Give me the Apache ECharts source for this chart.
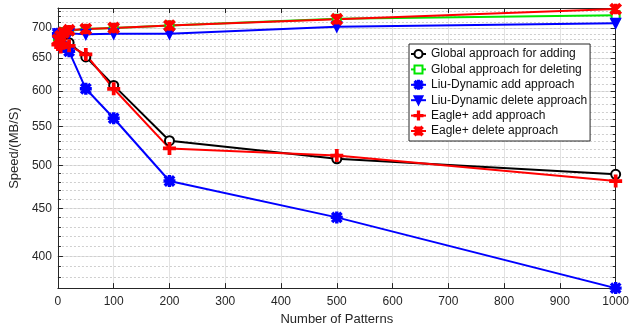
<!DOCTYPE html>
<html>
<head>
<meta charset="utf-8">
<script src="https://cdn.jsdelivr.net/npm/echarts@6/dist/echarts.min.js"></script>
<style>
  html, body { margin: 0; padding: 0; background: #fff; }
  #chart { width: 632px; height: 331px; }
</style>
</head>
<body>
<div id="chart"></div>
<script>
// number of patterns (x) and speed in MB/S for each approach
const patterns = [0, 5, 10, 20, 50, 100, 200, 500, 1000];
const globalAdd = [688, 684, 678, 675, 652, 608, 531, 508, 489];
const globalDel = [686, 690, 693, 695, 698, 700, 704, 716, 722];
const liuAdd = [690, 675, 668, 661, 603, 561, 481, 440, 370];
const liuDel = [690, 688, 690, 691, 689, 690, 690, 702, 708];
const eagleAdd = [672, 668, 674, 670, 656, 603, 521, 512, 481];
const eagleDel = [680, 686, 692, 696, 698, 700, 704, 715, 733];

const yMajor = [400, 450, 500, 550, 600, 650, 700];
const yMinor = [370, 380, 390, 400, 410, 420, 430, 440, 450, 460, 470, 480, 490, 500,
  510, 520, 530, 540, 550, 560, 570, 580, 590, 600, 610, 620, 630, 640, 650,
  660, 670, 680, 690, 700, 710, 720, 730];

const FONT = '"Liberation Sans", Arial, sans-serif';
const AX = '#262626';

const PLUS = 'path://M4.2,0h1.6v10h-1.6z M0,4.2h10v1.6h-10z';
const STAR = 'path://M4.3,0h1.4v10h-1.4z M0,4.3h10v1.4h-10z M0.5,1.5L1.5,0.5L9.5,8.5L8.5,9.5z M8.5,0.5L9.5,1.5L1.5,9.5L0.5,8.5z';
const CROSS = 'path://M0.3,1.6L1.6,0.3L9.7,8.4L8.4,9.7z M8.4,0.3L9.7,1.6L1.6,9.7L0.3,8.4z M4.3,1h1.4v8h-1.4z';

function pts(vals) {
  return patterns.map((x, i) => [x, vals[i]]);
}

function line(name, vals, color, symbol, size, extra) {
  return Object.assign({
    name, type: 'line', data: pts(vals),
    symbol, symbolSize: size,
    lineStyle: { color, width: 2 },
    itemStyle: { color, borderColor: color, borderWidth: 2 },
    emphasis: { disabled: true },
    animation: false
  }, extra || {});
}

const chart = echarts.init(document.getElementById('chart'), null, { renderer: 'canvas' });

const yBase = { type: 'log', logBase: 10, min: 370, max: 735 };

chart.setOption({
  backgroundColor: '#fff',
  textStyle: { fontFamily: FONT },
  grid: { left: 56, right: 10, top: 8, bottom: 40 },
  legend: {
    orient: 'vertical',
    left: 409, top: 44,
    backgroundColor: '#fff',
    borderColor: AX, borderWidth: 1,
    padding: [4, 3, 4, 1],
    itemWidth: 15, itemHeight: 10, itemGap: 3.4,
    textStyle: { fontFamily: FONT, fontSize: 12, color: '#111' },
    data: ['Global approach for adding', 'Global approach for deleting', 'Liu-Dynamic add approach',
      'Liu-Dynamic delete approach', 'Eagle+ add approach', 'Eagle+ delete approach']
  },
  xAxis: [
    {
      type: 'value', min: 0, max: 1000, interval: 100, position: 'bottom',
      name: 'Number of Patterns', nameLocation: 'middle', nameGap: 22,
      nameTextStyle: { fontFamily: FONT, fontSize: 13, color: AX },
      axisLine: { lineStyle: { color: AX } },
      axisTick: { inside: true, length: 5, lineStyle: { color: AX } },
      axisLabel: { color: AX, fontSize: 12, margin: 8, fontFamily: FONT, formatter: v => String(v) },
      splitLine: { show: true, lineStyle: { color: '#e2e2e2' } }
    },
    {
      type: 'value', min: 0, max: 1000, interval: 100, position: 'top',
      axisLine: { show: true, lineStyle: { color: AX } },
      axisTick: { show: true, inside: true, length: 5, lineStyle: { color: AX } },
      axisLabel: { show: false },
      splitLine: { show: false }
    }
  ],
  yAxis: [
    Object.assign({}, yBase, {
      position: 'left',
      name: 'Speed/(MB/S)', nameLocation: 'middle', nameGap: 34,
      nameTextStyle: { fontFamily: FONT, fontSize: 13, color: AX },
      axisLine: { show: true, lineStyle: { color: AX } },
      axisTick: { show: true, inside: true, length: 5, customValues: yMajor, lineStyle: { color: AX } },
      axisLabel: { customValues: yMajor, color: AX, fontSize: 12, margin: 6, fontFamily: FONT },
      splitLine: { show: true, lineStyle: { color: '#e2e2e2' } },
      minorTick: { show: false }
    }),
    Object.assign({}, yBase, {
      position: 'left',
      axisLine: { show: false },
      axisTick: { show: true, inside: true, length: 3, customValues: yMinor, lineStyle: { color: AX } },
      axisLabel: { show: false },
      splitLine: { show: true, lineStyle: { color: '#cfcfcf', type: [2, 2] } }
    }),
    Object.assign({}, yBase, {
      position: 'right',
      axisLine: { show: true, lineStyle: { color: AX } },
      axisTick: { show: true, inside: true, length: 5, customValues: yMajor, lineStyle: { color: AX } },
      axisLabel: { show: false },
      splitLine: { show: false }
    }),
    Object.assign({}, yBase, {
      position: 'right',
      axisLine: { show: false },
      axisTick: { show: true, inside: true, length: 3, customValues: yMinor, lineStyle: { color: AX } },
      axisLabel: { show: false },
      splitLine: { show: false }
    })
  ],
  series: [
    line('Global approach for adding', globalAdd, '#000000', 'emptyCircle', 9),
    line('Global approach for deleting', globalDel, '#00e600', 'emptyRect', 8),
    line('Liu-Dynamic add approach', liuAdd, '#0000ff', STAR, 10),
    line('Liu-Dynamic delete approach', liuDel, '#0000ff', 'triangle', 9, { symbolRotate: 180 }),
    line('Eagle+ add approach', eagleAdd, '#ff0000', PLUS, 11),
    line('Eagle+ delete approach', eagleDel, '#ff0000', CROSS, 10)
  ]
});
</script>
</body>
</html>
